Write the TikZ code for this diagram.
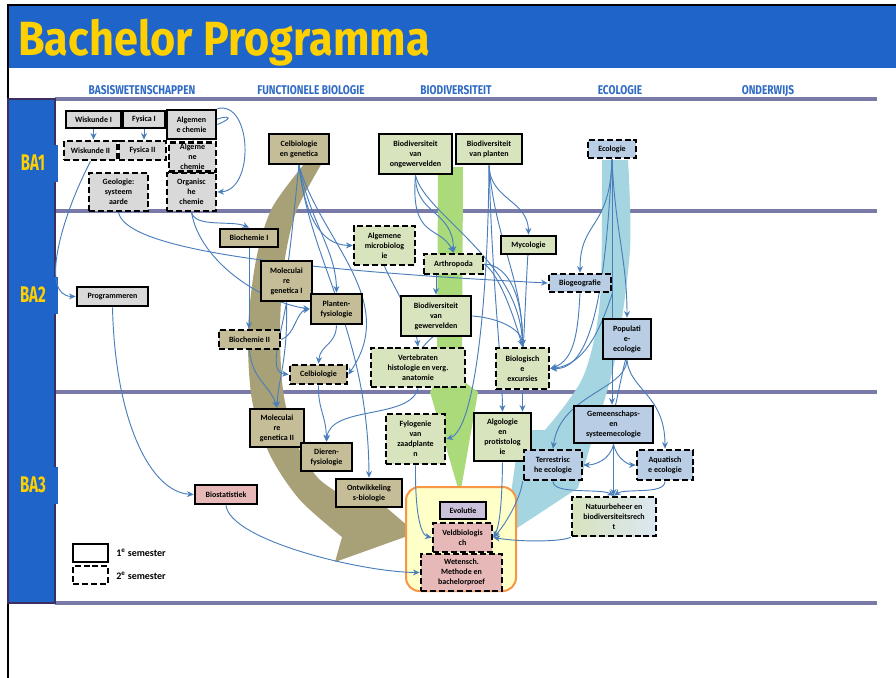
\documentclass[tikz,border=0pt]{standalone}
\usepackage{fontspec}
\usepackage{graphicx}
\setmainfont{Carlito}
\newfontfamily\kopfont{Fira Sans}
\usetikzlibrary{arrows.meta}

\definecolor{balk}{RGB}{31,100,200}
\definecolor{titelgeel}{RGB}{255,208,0}
\definecolor{kopblauw}{RGB}{47,107,197}
\definecolor{scheiding}{RGB}{122,122,168}
\definecolor{kolrand}{RGB}{60,47,95}
\definecolor{grijs}{RGB}{217,217,217}
\definecolor{taupe}{RGB}{196,189,151}
\definecolor{groen}{RGB}{215,228,189}
\definecolor{blauw}{RGB}{185,205,229}
\definecolor{lichtblauw}{RGB}{220,230,242}
\definecolor{roze}{RGB}{230,185,184}
\definecolor{paars}{RGB}{204,193,218}
\definecolor{oranje}{RGB}{247,150,70}
\definecolor{geel}{RGB}{255,255,200}
\definecolor{tanpijl}{RGB}{168,160,118}
\definecolor{groenpijl}{RGB}{170,218,122}
\definecolor{blauwpijl}{RGB}{165,213,224}
\definecolor{lijn}{RGB}{74,126,187}

\newcommand\kop[1]{{\kopfont\bfseries\fontsize{9.5}{10}\selectfont\scalebox{0.8}[1]{#1}}}
\newcommand\bajaar[1]{{\kopfont\bfseries\fontsize{17}{17}\selectfont\scalebox{0.66}[1]{#1}}}

\pgfdeclarelayer{achter}
\pgfdeclarelayer{lijnen}
\pgfsetlayers{achter,lijnen,main}

\tikzset{every picture/.style={line width=0.75pt}}
\tikzset{
  vak/.style={draw=black, line width=2pt, align=center, inner sep=1pt,
    font=\fontsize{6}{7.5}\selectfont\bfseries},
  sem1/.style={vak},
  sem2/.style={vak, dash pattern=on 4.5pt off 2.2pt},
  maat/.style 2 args={minimum width=#1*0.75pt, minimum height=#2*0.75pt},
  link/.style={draw=lijn, line width=0.7pt, -{Stealth[length=5pt,width=4.5pt]}},
  kolkop/.style={anchor=base, text=kopblauw, inner sep=0pt},
  jaarlabel/.style={text=titelgeel, inner sep=0pt}
}

\begin{document}
\begin{tikzpicture}[x=0.75pt,y=0.75pt,yscale=-1,xscale=1]
\useasboundingbox (0,0) rectangle (896,678);

\begin{pgfonlayer}{achter}
% kader en titelbalk
\fill[balk] (8,6) rectangle (896,68);
\draw[line width=1.5pt] (8,678) -- (8,5) -- (896,5);
\node[anchor=base west, inner sep=0pt, text=titelgeel] (titel) at (18,55)
  {\kopfont\bfseries\fontsize{36}{36}\selectfont\scalebox{0.9}[1]{Bachelor Programma}};

% kolomkoppen
\node[kolkop] (kbasis) at (142,94) {\kop{BASISWETENSCHAPPEN}};
\node[kolkop] (kfunc) at (311,94) {\kop{FUNCTIONELE BIOLOGIE}};
\node[kolkop] (kbiodiv) at (456,94) {\kop{BIODIVERSITEIT}};
\node[kolkop] (kecol) at (620,94) {\kop{ECOLOGIE}};
\node[kolkop] (konderw) at (768,94) {\kop{ONDERWIJS}};

% scheidingslijnen
\foreach \y in {99,211,392,603}
  \draw[scheiding, line width=3pt] (55,\y) -- (877,\y);

% jaarkolom
\draw[fill=balk, draw=kolrand, line width=1.5pt] (8,99) rectangle (55,603);
\foreach \y/\lab in {163/BA1,295/BA2,485/BA3}{
  \fill[balk] (50,\y-18.5) rectangle (58,\y+18.5);
  \node[jaarlabel] at (33,\y) {\bajaar{\lab}};
}

% grote pijlen
\fill[tanpijl] plot[smooth] coordinates {(305,163) (272,208) (256,260) (248,330) (252,400) (270,455) (300,500) (342,537)}
  -- (335,562) -- (416,533) -- (352,478)
  -- plot[smooth] coordinates {(350,500) (318,478) (295,440) (283,390) (280,330) (284,265) (296,212) (322,163)} -- cycle;
\fill[groenpijl] (438,167) -- (437,380) -- (430,392) -- (460,495) -- (478,392) -- (462,380) -- (463,167) -- cycle;
\fill[blauwpijl] plot[smooth] coordinates {(628,160) (630,250) (615,360) (592,440)}
  -- (578,488) -- (505,536) -- (520,430)
  -- plot[smooth] coordinates {(545,430) (583,377) (600,300) (602,160)} -- cycle;

% eindblok
\draw[draw=oranje, fill=geel, line width=1.5pt, rounded corners=10pt] (406,487) rectangle (516,591);
\end{pgfonlayer}

% BA1
\node[sem1, fill=grijs, maat={55}{17}] (wisk1) at (93.5,119.5) {Wiskunde I};
\node[sem1, fill=grijs, maat={42}{17}] (fys1) at (144,119.5) {Fysica I};
\node[sem1, fill=grijs, maat={49}{29}] (alch1) at (191.5,124.5) {Algemen\\e chemie};
\node[sem2, fill=grijs, maat={53}{19}] (wisk2) at (90.5,150.5) {Wiskunde II};
\node[sem2, fill=grijs, maat={47}{19}] (fys2) at (142.5,150.5) {Fysica II};
\node[sem2, fill=grijs, maat={47}{29}] (alch2) at (192.5,157) {Algeme\\ne\\chemie};
\node[sem2, fill=grijs, maat={49}{38}] (orgch) at (191.5,192) {Organisc\\he\\chemie};
\node[sem2, fill=grijs, maat={59}{38}] (geol) at (118.5,192) {Geologie:\\systeem\\aarde};
\node[sem1, fill=taupe, maat={60}{30}] (celgen) at (299,149) {Celbiologie\\en genetica};
\node[sem1, fill=groen, maat={73}{40}] (ongew) at (415.5,154) {Biodiversiteit\\van\\ongewervelden};
\node[sem1, fill=groen, maat={66}{30}] (plant) at (489,149) {Biodiversiteit\\van planten};
\node[sem2, fill=blauw, maat={48}{18}] (ecol) at (612,149) {Ecologie};

% BA2
\node[sem1, fill=grijs, maat={71}{19}] (prog) at (112.5,296.5) {Programmeren};
\node[sem1, fill=taupe, maat={58}{18}] (bioch1) at (249,238) {Biochemie I};
\node[sem1, fill=taupe, maat={51}{40}] (molgen1) at (286.5,281) {Moleculai\\re\\genetica I};
\node[sem2, fill=taupe, maat={61}{19}] (bioch2) at (249.5,339.5) {Biochemie II};
\node[sem1, fill=taupe, maat={51}{30}] (plfys) at (336.5,309) {Planten-\\fysiologie};
\node[sem2, fill=taupe, maat={57}{19}] (celbio) at (318.5,374.5) {Celbiologie};
\node[sem2, fill=groen, maat={61}{39}] (micro) at (384.5,245.5) {Algemene\\microbiolog\\ie};
\node[sem2, fill=groen, maat={59}{20}] (arthro) at (453.5,264) {Arthropoda};
\node[sem1, fill=groen, maat={55}{18}] (myco) at (528.5,245) {Mycologie};
\node[sem1, fill=groen, maat={70}{40}] (gewerv) at (436,316) {Biodiversiteit\\van\\gewervelden};
\node[sem2, fill=groen, maat={94}{39}] (verteb) at (418,367.5) {Vertebraten\\histologie en verg.\\anatomie};
\node[sem2, fill=groen, maat={53}{41}] (excur) at (522.5,368.5) {Biologisch\\e\\excursies};
\node[sem2, fill=blauw, maat={62}{18}] (biogeo) at (580,283) {Biogeografie};
\node[sem1, fill=blauw, maat={48}{40}] (popul) at (627,339) {Populati\\e-\\ecologie};

% BA3
\node[sem1, fill=taupe, maat={54}{38}] (molgen2) at (277,428) {Moleculai\\re\\genetica II};
\node[sem1, fill=taupe, maat={51}{28}] (dierfys) at (326.5,457) {Dieren-\\fysiologie};
\node[sem1, fill=taupe, maat={66}{28}] (ontw) at (369,493) {Ontwikkeling\\s-biologie};
\node[sem1, fill=roze, maat={62}{19}] (biostat) at (226,494.5) {Biostatistiek};
\node[sem2, fill=groen, maat={59}{50}] (fylo) at (415.5,439) {Fylogenie\\van\\zaadplante\\n};
\node[sem1, fill=groen, maat={57}{48}] (algo) at (502.5,437) {Algologie\\en\\protistolog\\ie};
\node[sem2, fill=blauw, maat={58}{30}] (terr) at (553,465) {Terrestrisc\\he ecologie};
\node[sem1, fill=blauw, maat={79}{37}] (gemsys) at (613.5,424.5) {Gemeenschaps-\\en\\systeemecologie};
\node[sem2, fill=blauw, maat={56}{30}] (aqua) at (665,465) {Aquatisch\\e ecologie};
\node[sem2, left color=groen, right color=lichtblauw, maat={84}{39}] (natuur) at (614,516.5) {Natuurbeheer en\\biodiversiteitsrech\\t};
\node[sem1, fill=paars, maat={46}{17}] (evol) at (463,510.5) {Evolutie};
\node[sem2, fill=roze, maat={59}{29}] (veld) at (462.5,537.5) {Veldbiologis\\ch};
\node[sem2, fill=roze, maat={81}{37}] (wet) at (461.5,572.5) {Wetensch.\\Methode en\\bachelorproef};

% legende
\node[sem1, fill=white, maat={35}{18}] (leg1) at (90.5,553) {};
\node[sem2, fill=white, maat={35}{18}] (leg2) at (90.5,575) {};
\node[anchor=west, inner sep=0pt, font=\fontsize{7.5}{8}\selectfont\bfseries] (leg1t) at (116,553) {1\textsuperscript{e} semester};
\node[anchor=west, inner sep=0pt, font=\fontsize{7.5}{8}\selectfont\bfseries] (leg2t) at (116,576) {2\textsuperscript{e} semester};

\begin{pgfonlayer}{lijnen}
% basiswetenschappen
\draw[link] (wisk1.south) -- (wisk1.south |- wisk2.north);
\draw[link] (fys1.south) -- (fys1.south |- fys2.north);
\draw[link] (alch1.east) .. controls (248,112) and (205,115) .. (alch2.north);
\draw[link] (alch1.north east) .. controls (252,100) and (255,190) .. (orgch.east);
\draw[link] (wisk2.south) .. controls (60,220) and (40,296) .. (prog.west);
\draw[link] (geol.south) .. controls (125,245) and (250,268) .. (biogeo.west);
\draw[link] (orgch.south) .. controls (195,228) and (232,220) .. (bioch1.north);
\draw[link] (orgch.south) .. controls (200,262) and (262,302) .. (plfys.west);
\draw[link] (prog.south) .. controls (115,420) and (150,492) .. (biostat.west);
\draw[link] (biostat.south) .. controls (230,540) and (360,572) .. (wet.west);
% functionele biologie
\draw[link] (celgen.south) to[out=-85,in=90] (molgen1.north);
\draw[link] (celgen.south) .. controls (305,215) and (320,245) .. (micro.west);
\draw[link] (celgen.south) .. controls (310,222) and (336,250) .. (plfys.north);
\draw[link] (celgen.south) .. controls (320,240) and (400,300) .. (celbio.east);
\draw[link] (celgen.south) .. controls (310,262) and (368,330) .. (ontw.north);
\draw[link] (bioch1.south) -- (bioch1.south |- bioch2.north);
\draw[link] (bioch2.south) .. controls (252,380) and (270,385) .. (molgen2.north);
\draw[link] (bioch2.east) .. controls (295,335) and (296,312) .. (plfys.west);
\draw[link] (molgen1.south) .. controls (280,340) and (268,372) .. (celbio.west);
\draw[link] (molgen1.south) .. controls (288,360) and (278,380) .. (molgen2.north);
\draw[link] (plfys.south) .. controls (336,345) and (320,345) .. (celbio.north);
\draw[link] (celbio.south) .. controls (318,410) and (326,415) .. (dierfys.north);
% biodiversiteit
\draw[link] (verteb.south) .. controls (410,420) and (330,405) .. (dierfys.north);
\draw[link] (micro.south) .. controls (395,290) and (415,320) .. (verteb.north);
\draw[link] (ongew.south) .. controls (415,215) and (453,210) .. (arthro.north);
\draw[link] (ongew.south) .. controls (410,240) and (440,225) .. (arthro.north);
\draw[link] (ongew.south) .. controls (425,215) and (520,260) .. (excur.north);
\draw[link] (gewerv.north |- arthro.south) -- (gewerv.north);
\draw[link] (arthro.east) .. controls (510,265) and (523,300) .. (excur.north);
\draw[link] (arthro.east) .. controls (500,275) and (515,320) .. (excur.north);
\draw[link] (plant.south) .. controls (490,200) and (528,200) .. (myco.north);
\draw[link] (plant.south) .. controls (488,300) and (475,430) .. (fylo.east);
\draw[link] (plant.south) .. controls (493,300) and (502,360) .. (algo.north);
\draw[link] (plant.south) .. controls (495,240) and (523,280) .. (excur.north);
\draw[link] (myco.south) to[out=-90,in=90] (excur.north);
\draw[link] (gewerv.east) .. controls (500,318) and (522,330) .. (excur.north);
\draw[link] (gewerv.south) to[out=-90,in=90] (verteb.north);
\draw[link] (excur.south) -- (excur.south |- algo.north);
% ecologie
\draw[link] (ecol.south) .. controls (610,230) and (580,220) .. (biogeo.north);
\draw[link] (ecol.south) .. controls (615,230) and (627,260) .. (popul.north);
\draw[link] (ecol.south) -- (ecol.south |- gemsys.north);
\draw[link] (biogeo.south) .. controls (578,330) and (575,360) .. (excur.east);
\draw[link] (biogeo.south east) .. controls (600,330) and (585,365) .. (excur.east);
\draw[link] (ecol.south) .. controls (605,300) and (590,370) .. (excur.east);
\draw[link] (popul.south) .. controls (625,390) and (560,395) .. (terr.north);
\draw[link] (popul.south) .. controls (630,390) and (665,395) .. (aqua.north);
\draw[link] (popul.south) to[out=-90,in=90] (gemsys.north);
\draw[link] (gemsys.south) .. controls (610,460) and (595,465) .. (terr.east);
\draw[link] (gemsys.south) .. controls (617,460) and (630,465) .. (aqua.west);
\draw[link] (gemsys.south) -- (gemsys.south |- natuur.north);
\draw[link] (terr.south) .. controls (553,495) and (600,488) .. (natuur.north);
\draw[link] (aqua.south) .. controls (665,495) and (625,488) .. (natuur.north);
% naar het eindblok
\draw[link] (natuur.south west) .. controls (560,542) and (520,542) .. (veld.east);
\draw[link] (algo.south) .. controls (502,500) and (500,525) .. (veld.east);
\draw[link] (terr.south west) .. controls (520,500) and (505,525) .. (veld.east);
\draw[link] (fylo.south) .. controls (415,510) and (420,535) .. (veld.west);
\end{pgfonlayer}

\end{tikzpicture}
\end{document}
